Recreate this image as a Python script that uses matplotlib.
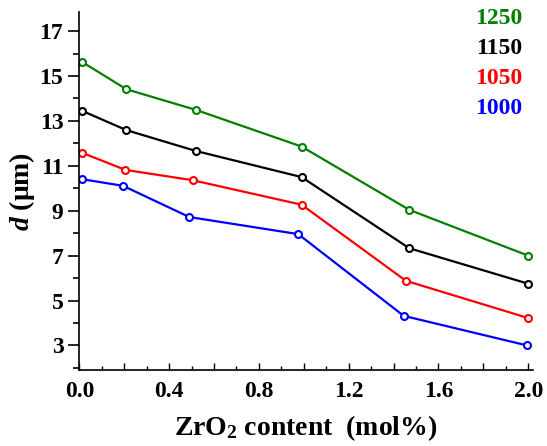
import matplotlib.pyplot as plt
from matplotlib.ticker import MultipleLocator, FuncFormatter

plt.rcParams['font.family'] = ['Liberation Serif', 'DejaVu Serif']
plt.rcParams['font.weight'] = 'bold'
plt.rcParams['mathtext.fontset'] = 'custom'
plt.rcParams['mathtext.rm'] = 'Liberation Serif:bold'
plt.rcParams['mathtext.it'] = 'Liberation Serif:bold:italic'
plt.rcParams['mathtext.bf'] = 'Liberation Serif:bold'

# ZrO2 content (mol%) and grain size d (um) per sintering temperature
x_1250 = [0.01, 0.21, 0.52, 0.99, 1.47, 2.0]
d_1250 = [15.64, 14.41, 13.49, 11.86, 9.04, 7.0]
x_1150 = [0.01, 0.21, 0.52, 0.99, 1.47, 2.0]
d_1150 = [13.46, 12.59, 11.66, 10.5, 7.33, 5.75]
x_1050 = [0.01, 0.205, 0.505, 0.99, 1.455, 2.0]
d_1050 = [11.59, 10.82, 10.36, 9.27, 5.88, 4.22]
x_1000 = [0.01, 0.195, 0.49, 0.975, 1.445, 1.995]
d_1000 = [10.41, 10.11, 8.72, 7.96, 4.32, 3.0]

series = [
    ('1250', x_1250, d_1250, '#008000'),
    ('1150', x_1150, d_1150, 'black'),
    ('1050', x_1050, d_1050, '#ff0000'),
    ('1000', x_1000, d_1000, '#0000ff'),
]

fig = plt.figure(figsize=(5.47, 4.46), dpi=100)
ax = fig.add_axes([0.145, 0.170, 0.829, 0.803])

for name, xs, ys, c in series:
    ax.plot(xs, ys, color=c, lw=1.6, marker='o', ms=5, mfc='white',
            mec=c, mew=1.5)

ax.set_xlim(0, 2.02)
ax.set_ylim(1.9, 17.85)

ax.spines['top'].set_visible(False)
ax.spines['right'].set_visible(False)
ax.spines['left'].set_linewidth(1.2)
ax.spines['bottom'].set_linewidth(1.2)

ax.yaxis.set_major_locator(MultipleLocator(2))
ax.yaxis.set_minor_locator(MultipleLocator(1))
ax.set_yticks([3, 5, 7, 9, 11, 13, 15, 17])
ax.xaxis.set_major_locator(MultipleLocator(0.2))
ax.xaxis.set_minor_locator(MultipleLocator(0.1))


def xfmt(v, pos):
    k = int(round(v / 0.2))
    return f'{v:.1f}' if k % 2 == 0 else ''


ax.xaxis.set_major_formatter(FuncFormatter(xfmt))

ax.tick_params(axis='y', which='major', direction='out', length=8, width=1.2,
               labelsize=17)
ax.tick_params(axis='y', which='minor', direction='out', length=4, width=1.2)
ax.tick_params(axis='x', which='major', direction='in', length=5, width=1.0,
               labelsize=17, pad=8)
ax.tick_params(axis='x', which='minor', direction='in', length=3, width=1.0)

ax.set_xlabel('ZrO$_2$ content  (mol%)', fontsize=20, fontweight='bold',
              labelpad=8)
ax.set_ylabel('$d$ (μm)', fontsize=20, fontweight='bold', labelpad=2)

for i, (name, xs, ys, c) in enumerate(series):
    fig.text(0.955, 0.958 - i * 0.067, name, color=c, fontsize=17,
             fontweight='bold', ha='right', va='center')

fig.savefig('out.png', dpi=100)
